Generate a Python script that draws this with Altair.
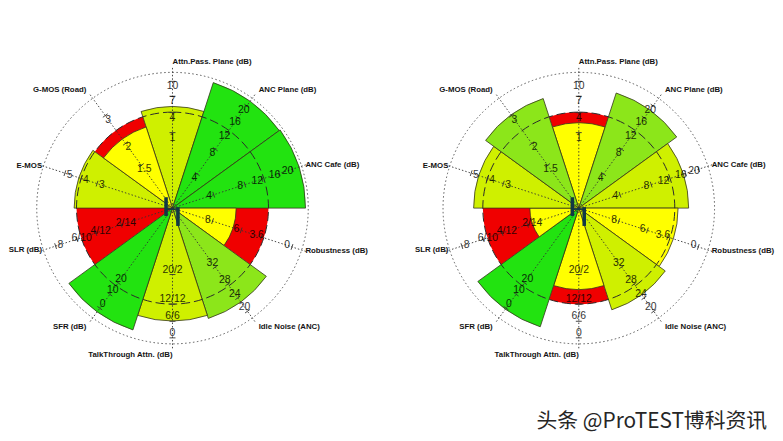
import math
import altair as alt
import pandas as pd

# ---------------- data ----------------
CATEGORIES = [
    "Attn.Pass. Plane (dB)", "ANC Plane (dB)", "ANC Cafe (dB)", "Robustness (dB)",
    "Idle Noise (ANC)", "TalkThrough Attn. (dB)", "SFR (dB)", "SLR (dB)", "E-MOS", "G-MOS (Road)",
]
# normalised scores (0..100, area scale)
LEFT_SCORES = [56, 94.5, 96, 22, 73, 69, 89, 0, 52.5, 39.5]
LEFT_RATINGS = ["good", "excellent", "excellent", "fair", "very good",
                "good", "excellent", "poor", "good", "fair"]
RIGHT_SCORES = [39.5, 79.5, 65.5, 53.5, 62, 36, 84.5, 13, 60, 72]
RIGHT_RATINGS = ["fair", "very good", "good", "fair", "good",
                 "fair", "excellent", "fair", "good", "very good"]
TARGET_SCORE = 50
FULL_SCORE = 100

TICK_LABELS = [
    ["1", "4", "7", "10"],
    ["4", "8", "12", "16", "20"],
    ["4", "8", "12", "16", "20"],
    ["8", "6", "3.6", "0"],
    ["32", "28", "24", "20"],
    ["20/2", "12/12", "6/6", "0"],
    ["20", "10", "0"],
    ["2/14", "4/12", "6/10", "8"],
    ["3", "4", "5"],
    ["1.5", "2", "3"],
]
TICK_SCORES = [
    [27, 44.5, 62, 80.5],
    [7.5, 25, 42.5, 61.5, 80],
    [8, 27.5, 43, 62.5, 79.5],
    [7.5, 24.5, 42.5, 79],
    [25, 43, 61, 81.5],
    [20.5, 45, 63.5, 84.5],
    [41.5, 56, 76.5],
    [13, 31, 49.5, 75.5],
    [30, 45, 63.5],
    [12.5, 30.5, 65],
]
RATING_LEVELS = ["poor", "fair", "good", "very good", "excellent"]
WATERMARK = "头条 @ProTEST博科资讯"

# ---------------- style / layout ----------------
RATING_COLORS = ["#F00000", "#FFFF00", "#CFF000", "#8CE61A", "#22E310"]
R_PX = 137
W_LEFT, W_RIGHT, H = 332, 396, 400
SPACING = 46
LINE_END = 109
TICK_OUT, TICK_HALF = 5, 3
FONT = "Liberation Sans"
LABEL_SIZE = 7.9

theta_scale = alt.Scale(domain=[0, 360], range=[0, 2 * math.pi])
radius_scale = alt.Scale(type="sqrt", domain=[0, FULL_SCORE], range=[0, R_PX], zero=True)


def rpx(expr):
    return f"{R_PX}*sqrt(({expr})/{FULL_SCORE})"


def panel(scores, ratings, width, watermark=False):
    n = len(CATEGORIES)
    step = 360 / n
    sectors = pd.DataFrame({
        "category": CATEGORIES,
        "angle": [i * step for i in range(n)],
        "score": scores,
        "rating": ratings,
    })
    sectors["start"] = sectors["angle"] - step / 2
    sectors["end"] = sectors["angle"] + step / 2
    sectors["target"] = TARGET_SCORE

    ticks = pd.DataFrame([
        {"category": c, "angle": i * step, "label": lab, "score": s}
        for i, c in enumerate(CATEGORIES)
        for lab, s in zip(TICK_LABELS[i], TICK_SCORES[i])
    ])

    xs = alt.Scale(domain=[-width / 2, width / 2], nice=False, zero=False)
    ys = alt.Scale(domain=[-H / 2, H / 2], nice=False, zero=False)

    th = lambda f: alt.Theta(f, scale=theta_scale, stack=None)
    rad = lambda f: alt.Radius(f, scale=radius_scale)

    base = alt.Chart(sectors)
    bg = base.mark_arc(fill=RATING_COLORS[0], strokeWidth=0).encode(
        theta=th("start:Q"), theta2="end:Q", radius=rad("target:Q"))
    fg = base.transform_filter("datum.score > 0").mark_arc(
        stroke="#34341c", strokeWidth=0.8).encode(
        theta=th("start:Q"), theta2="end:Q", radius=rad("score:Q"),
        color=alt.Color("rating:N", scale=alt.Scale(domain=RATING_LEVELS, range=RATING_COLORS),
                        legend=None))

    circ = pd.DataFrame({"s": [TARGET_SCORE, FULL_SCORE], "t0": [0, 0], "t1": [360, 360],
                         "kind": ["target", "full"]})
    dashed = alt.Chart(circ).transform_filter("datum.kind == 'target'").mark_arc(
        fillOpacity=0, stroke="#2a2a2a", strokeWidth=1, strokeDash=[9, 4]).encode(
        theta=th("t0:Q"), theta2="t1:Q", radius=rad("s:Q"))
    dotted = alt.Chart(circ).transform_filter("datum.kind == 'full'").mark_arc(
        fillOpacity=0, stroke="#555555", strokeWidth=1, strokeDash=[1.5, 2.5]).encode(
        theta=th("t0:Q"), theta2="t1:Q", radius=rad("s:Q"))

    axes = base.transform_calculate(
        a="datum.angle*PI/180", x0="0", y0="0"
    ).transform_calculate(
        x1=f"{rpx(LINE_END)}*sin(datum.a)", y1=f"{rpx(LINE_END)}*cos(datum.a)"
    ).mark_rule(color="#333333", strokeWidth=0.9, strokeDash=[1.5, 2]).encode(
        x=alt.X("x0:Q", scale=xs, axis=None), y=alt.Y("y0:Q", scale=ys, axis=None),
        x2="x1:Q", y2="y1:Q")

    tk = alt.Chart(ticks).transform_calculate(
        a="datum.angle*PI/180", r=f"{rpx('datum.score')}+{TICK_OUT}"
    ).transform_calculate(
        xa=f"datum.r*sin(datum.a)+{TICK_HALF}*cos(datum.a)",
        ya=f"datum.r*cos(datum.a)-{TICK_HALF}*sin(datum.a)",
        xb=f"datum.r*sin(datum.a)-{TICK_HALF}*cos(datum.a)",
        yb=f"datum.r*cos(datum.a)+{TICK_HALF}*sin(datum.a)",
    ).mark_rule(color="#333333", strokeWidth=0.9).encode(
        x=alt.X("xa:Q", scale=xs, axis=None), y=alt.Y("ya:Q", scale=ys, axis=None),
        x2="xb:Q", y2="yb:Q")

    tlab = alt.Chart(ticks).mark_text(
        font=FONT, fontSize=10.5, color="#000000", opacity=0.8, baseline="middle").encode(
        theta=th("angle:Q"), radius=rad("score:Q"), text="label:N")

    lab_r = base.transform_filter("datum.angle < 180").transform_calculate(
        lr="(datum.angle == 72 || datum.angle == 108) ? 106 : 116.5"
    ).mark_text(font=FONT, fontSize=LABEL_SIZE, fontWeight="bold", color="#141414",
                align="left", baseline="middle").encode(
        theta=th("angle:Q"), radius=rad("lr:Q"), text="category:N")
    lab_l = base.transform_filter("datum.angle >= 180").transform_calculate(
        lr="(datum.angle == 252 || datum.angle == 288) ? 102 : 116.5"
    ).mark_text(font=FONT, fontSize=LABEL_SIZE, fontWeight="bold", color="#141414",
                align="right", baseline="middle").encode(
        theta=th("angle:Q"), radius=rad("lr:Q"), text="category:N")

    glyph = pd.DataFrame({"x": [-6.5, 5.5], "y": [11, 1], "x2": [-6.5, 5.5], "y2": [-8, -18]})
    bars = alt.Chart(glyph).mark_rule(color="#113845", strokeWidth=3.6).encode(
        x=alt.X("x:Q", scale=xs, axis=None), y=alt.Y("y:Q", scale=ys, axis=None),
        x2="x2:Q", y2="y2:Q")
    link = alt.Chart(pd.DataFrame({"x": [-6.5], "x2": [5.5], "y": [-1]})).mark_rule(
        color="#113845", strokeWidth=1.6).encode(
        x=alt.X("x:Q", scale=xs, axis=None), x2="x2:Q", y=alt.Y("y:Q", scale=ys, axis=None))

    layers = [bg, fg, dashed, dotted, axes, tk, tlab, lab_r, lab_l, bars, link]
    if watermark:
        wm = alt.Chart(pd.DataFrame({"t": [WATERMARK]})).mark_text(
            font="Noto Sans CJK SC", fontSize=21, color="#262626", align="right",
            baseline="middle").encode(x=alt.value(width - 8), y=alt.value(H + 16), text="t:N")
        layers.append(wm)
    return alt.layer(*layers).properties(width=width, height=H)


left = panel(LEFT_SCORES, LEFT_RATINGS, W_LEFT)
right = panel(RIGHT_SCORES, RIGHT_RATINGS, W_RIGHT, watermark=True)

chart = alt.hconcat(left, right, spacing=SPACING, bounds="flush").properties(
    padding=0).configure_view(stroke=None)

chart.save("out.html", embed_options={"renderer": "svg", "actions": False})
